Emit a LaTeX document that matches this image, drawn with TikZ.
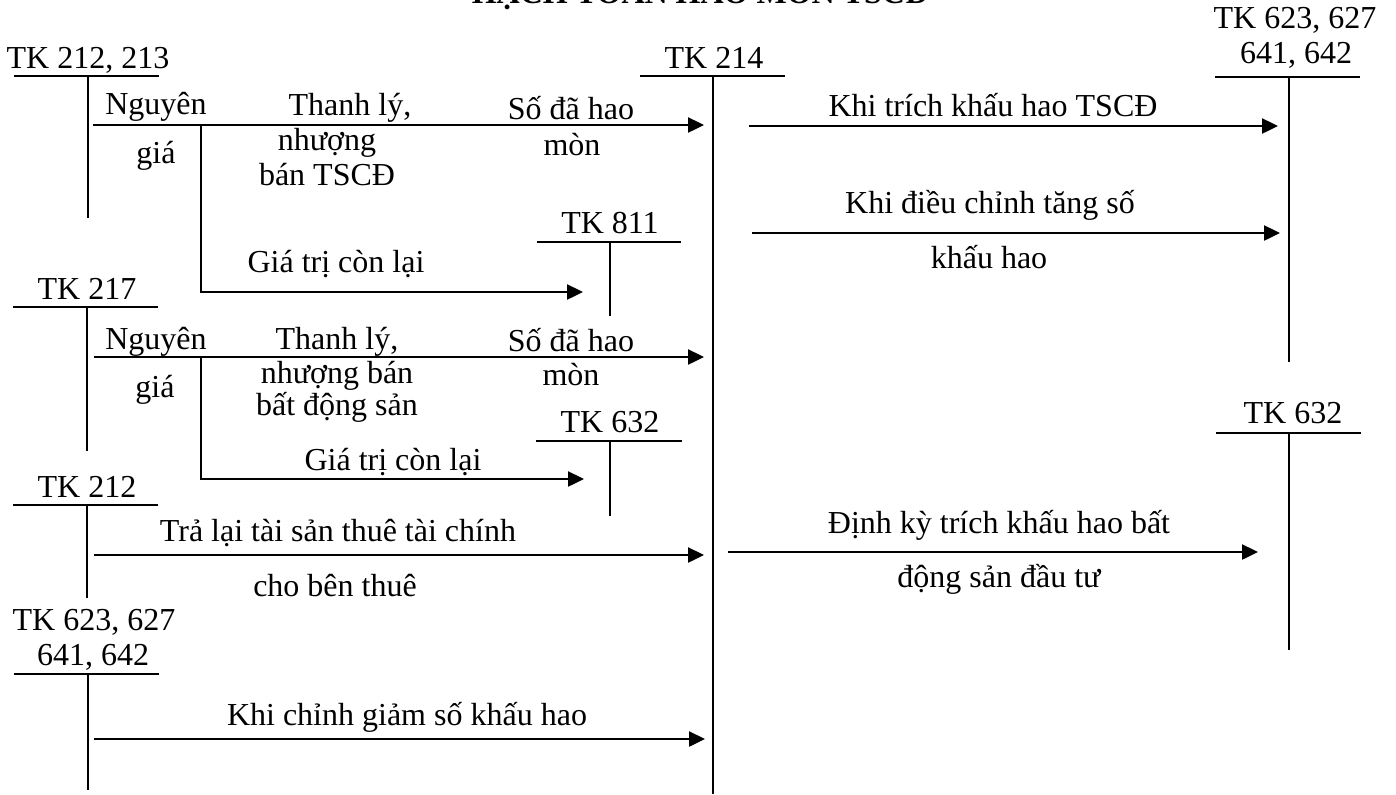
\documentclass[tikz,border=0pt]{standalone}
\usepackage{fontspec}
\setmainfont{Liberation Serif}
\usetikzlibrary{arrows.meta,positioning}

\begin{document}
\begin{tikzpicture}[x=0.5pt, y=-0.5pt,
    every node/.style={font=\fontsize{16}{19}\selectfont, inner sep=0pt},
    txt/.style={anchor=base},
    tline/.style={line width=0.75pt},
    flow/.style={line width=1.2pt, -{Triangle[length=8pt,width=7.5pt]}}]
        \useasboundingbox (0,0) rectangle (1396,794);

        % Title (cut by the page edge)
        \node[txt, font=\fontsize{16}{19}\selectfont\bfseries] (title) at (700,3) {HẠCH TOÁN HAO MÒN TSCĐ};

        % Accounts, left column
        \node[txt] (tkA) at (88,68) {TK 212, 213};
        \draw[tline] (14,76) -- (159,76) (88,76) -- (88,218);
        \node[txt] (tkE) at (87,299) {TK 217};
        \draw[tline] (13,307) -- (158,307) (87,307) -- (87,451);
        \node[txt] (tkG) at (87,497) {TK 212};
        \draw[tline] (13,505) -- (158,505) (87,505) -- (87,598);
        \node[txt] (tkH) at (94,630) {TK 623, 627};
        \node[txt] (tkH2) at (93,665) {641, 642};
        \draw[tline] (14,674) -- (159,674) (88,674) -- (88,790);

        % Accounts, middle
        \node[txt] (tkB) at (714,68) {TK 214};
        \draw[tline] (640,76) -- (785,76) (713,76) -- (713,794);
        \node[txt] (tkD) at (610,233) {TK 811};
        \draw[tline] (537,242) -- (681,242) (610,242) -- (610,316);
        \node[txt] (tkF) at (610,432) {TK 632};
        \draw[tline] (536,441) -- (682,441) (610,441) -- (610,516);

        % Accounts, right column
        \node[txt] (tkC) at (1295,28) {TK 623, 627};
        \node[txt] (tkC2) at (1296,63) {641, 642};
        \draw[tline] (1215,77) -- (1360,77) (1289,77) -- (1289,362);
        \node[txt] (tkI) at (1293,423) {TK 632};
        \draw[tline] (1216,433) -- (1361,433) (1289,433) -- (1289,650);

        % Arrow ends
        \coordinate (a1s) at (93,125);   \coordinate (a1e) at (704,125);
        \coordinate (b1s) at (201,125);  \coordinate (b1e) at (583,292);
        \coordinate (a2s) at (94,357);   \coordinate (a2e) at (704,357);
        \coordinate (b2s) at (201,357);  \coordinate (b2e) at (584,479);
        \coordinate (a3s) at (94,555);   \coordinate (a3e) at (704,555);
        \coordinate (a4s) at (94,739);   \coordinate (a4e) at (705,739);
        \coordinate (r1s) at (749,126);  \coordinate (r1e) at (1278,126);
        \coordinate (r2s) at (752,233);  \coordinate (r2e) at (1280,233);
        \coordinate (r3s) at (728,552);  \coordinate (r3e) at (1258,552);

        % Arrows into TK 214
        \draw[flow] (a1s) -- (a1e);
        \draw[flow] (b1s) |- (b1e);
        \draw[flow] (a2s) -- (a2e);
        \draw[flow] (b2s) |- (b2e);
        \draw[flow] (a3s) -- (a3e);
        \draw[flow] (a4s) -- (a4e);

        % Arrows out of TK 214
        \draw[flow] (r1s) -- (r1e);
        \draw[flow] (r2s) -- (r2e);
        \draw[flow] (r3s) -- (r3e);

        % Labels, TK 212, 213
        \node[txt] (l1a) at (156,114) {Nguyên};
        \node[txt] (l1b) at (156,163) {giá};
        \node[txt] (l1c) at (350,115) {Thanh lý,};
        \node[txt] (l1d) at (327,150) {nhượng};
        \node[txt] (l1e) at (327,185) {bán TSCĐ};
        \node[txt] (l1f) at (571,119) {Số đã hao};
        \node[txt] (l1g) at (572,155) {mòn};
        \node[txt] (l1h) at (336,272) {Giá trị còn lại};

        % Labels, TK 217
        \node[txt] (l2a) at (156,349) {Nguyên};
        \node[txt] (l2b) at (155,397) {giá};
        \node[txt] (l2c) at (337,349) {Thanh lý,};
        \node[txt] (l2d) at (337,383) {nhượng bán};
        \node[txt] (l2e) at (337,415) {bất động sản};
        \node[txt] (l2f) at (571,351) {Số đã hao};
        \node[txt] (l2g) at (571,385) {mòn};
        \node[txt] (l2h) at (393,470) {Giá trị còn lại};

        % Labels, lower left
        \node[txt] (l3a) at (338,541) {Trả lại tài sản thuê tài chính};
        \node[txt] (l3b) at (335,596) {cho bên thuê};
        \node[txt] (l4a) at (407,725) {Khi chỉnh giảm số khấu hao};

        % Labels, right
        \node[txt] (r1a) at (993,116) {Khi trích khấu hao TSCĐ};
        \node[txt] (r2a) at (990,213) {Khi điều chỉnh tăng số};
        \node[txt] (r2b) at (989,268) {khấu hao};
        \node[txt] (r3a) at (999,533) {Định kỳ trích khấu hao bất};
        \node[txt] (r3b) at (999,587) {động sản đầu tư};
    \end{tikzpicture}
\end{document}
